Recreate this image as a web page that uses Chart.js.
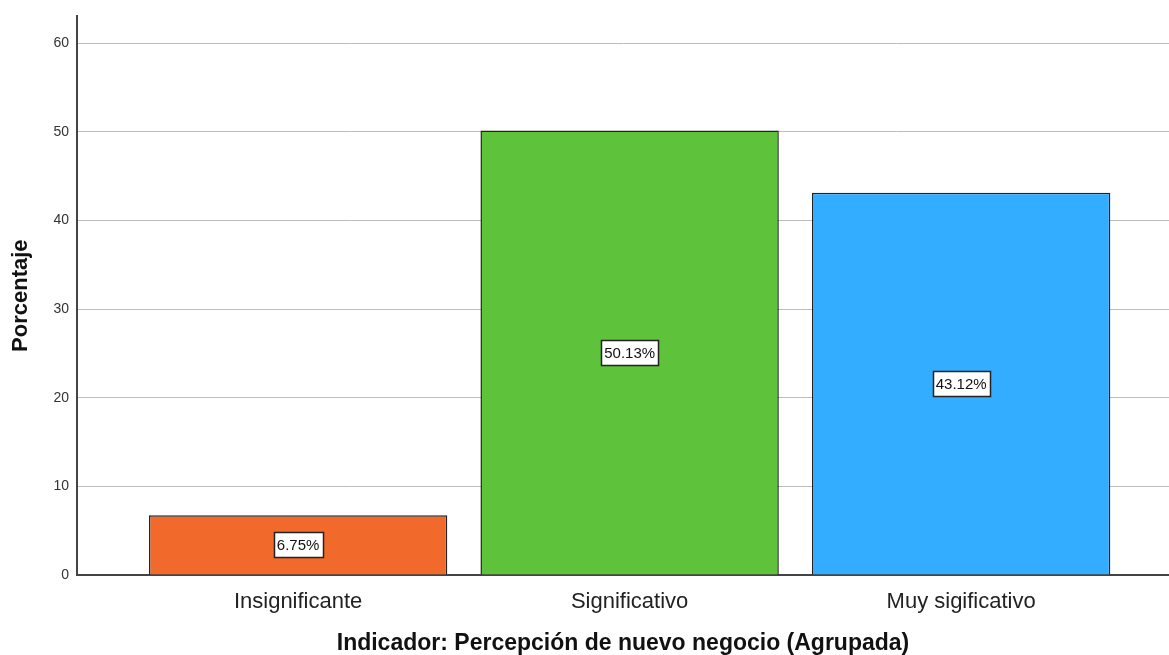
<!DOCTYPE html>
<html lang="es">
<head>
    <meta charset="UTF-8">
    <title>Indicador: Percepción de nuevo negocio</title>
    <script src="https://cdn.jsdelivr.net/npm/chart.js"></script>
    <style>
        body { margin: 0; background: #fff; }
        canvas { display: block; }
    </style>
</head>
<body>
    <canvas id="barChart" width="1169" height="655"></canvas>

    <script>
        const categories = ['Insignificante', 'Significativo', 'Muy sigificativo'];
        const percentages = [6.75, 50.13, 43.12];
        const barColors = ['#f26a2b', '#5ec23a', '#33adff'];
        const yTicks = [0, 10, 20, 30, 40, 50, 60];

        // white boxed value labels in the middle of each bar
        const boxLabels = {
            id: 'boxLabels',
            afterDatasetsDraw(chart) {
                const ctx = chart.ctx;
                const meta = chart.getDatasetMeta(0);
                ctx.save();
                ctx.font = '15px Arial, "Liberation Sans", sans-serif';
                ctx.textAlign = 'center';
                ctx.textBaseline = 'middle';
                meta.data.forEach((bar, i) => {
                    const text = percentages[i].toFixed(2) + '%';
                    const w = Math.round(ctx.measureText(text).width + 6);
                    const h = 25;
                    const cx = bar.x;
                    const cy = (bar.y + bar.base) / 2;
                    const x0 = Math.round(cx - w / 2) + 0.5;
                    const y0 = Math.round(cy - h / 2) + 0.5;
                    ctx.fillStyle = '#fff';
                    ctx.fillRect(x0, y0, w, h);
                    ctx.strokeStyle = '#222';
                    ctx.lineWidth = 1.5;
                    ctx.strokeRect(x0, y0, w, h);
                    ctx.fillStyle = '#111';
                    ctx.fillText(text, cx, cy + 1);
                });
                ctx.restore();
            }
        };

        const ctx = document.getElementById('barChart').getContext('2d');
        const barChart = new Chart(ctx, {
            type: 'bar',
            data: {
                datasets: [{
                    data: percentages.map((v, i) => ({ x: i, y: v })),
                    backgroundColor: barColors,
                    borderColor: '#222',
                    borderWidth: 1.5,
                    barPercentage: 0.9,
                    categoryPercentage: 1
                }]
            },
            options: {
                responsive: false,
                animation: false,
                devicePixelRatio: 1,
                layout: { padding: { top: 14, right: 0, left: 0, bottom: 0 } },
                plugins: {
                    legend: { display: false },
                    tooltip: { enabled: false }
                },
                scales: {
                    x: {
                        type: 'linear',
                        offset: false,
                        min: -0.667,
                        max: 2.627,
                        afterBuildTicks: (scale) => {
                            scale.ticks = categories.map((c, i) => ({ value: i }));
                        },
                        afterFit: (scale) => { scale.height = 80; },
                        grid: { display: false, drawTicks: false },
                        border: { color: '#444', width: 2 },
                        ticks: {
                            padding: 14,
                            color: '#222',
                            font: { family: 'Arial, "Liberation Sans", sans-serif', size: 22 },
                            callback: (v) => categories[v] ?? ''
                        },
                        title: {
                            display: true,
                            text: 'Indicador: Percepción de nuevo negocio (Agrupada)',
                            color: '#111',
                            padding: { bottom: -2, top: 0 },
                            font: { family: 'Arial, "Liberation Sans", sans-serif', size: 23, weight: 'bold' }
                        }
                    },
                    y: {
                        min: 0,
                        max: 63,
                        afterBuildTicks: (scale) => {
                            scale.ticks = yTicks.map(v => ({ value: v }));
                        },
                        afterFit: (scale) => { scale.width = 77; },
                        grid: { color: '#bdbdbd', lineWidth: 1, drawTicks: false },
                        border: { color: '#444', width: 2 },
                        ticks: {
                            padding: 8,
                            color: '#333',
                            font: { family: 'Arial, "Liberation Sans", sans-serif', size: 14 }
                        },
                        title: {
                            display: true,
                            text: 'Porcentaje',
                            color: '#111',
                            padding: { top: 8, bottom: 0 },
                            font: { family: 'Arial, "Liberation Sans", sans-serif', size: 22, weight: 'bold' }
                        }
                    }
                }
            },
            plugins: [boxLabels]
        });
    </script>
</body>
</html>
